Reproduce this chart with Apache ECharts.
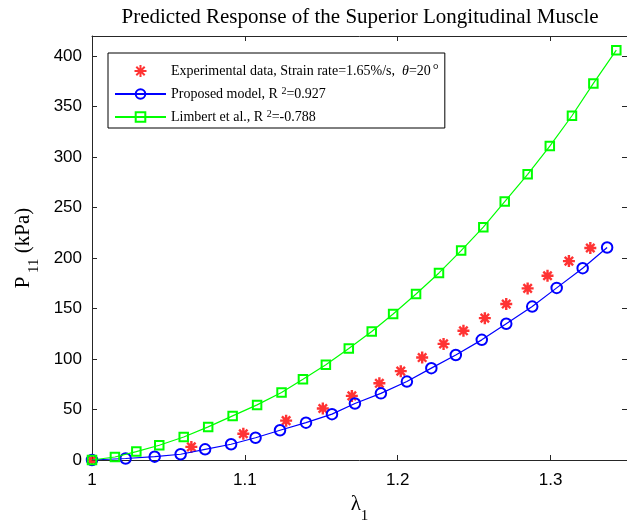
<!DOCTYPE html>
<html>
<head>
<meta charset="utf-8">
<script src="https://cdn.jsdelivr.net/npm/echarts@6/dist/echarts.min.js"></script>
<style>
html,body{margin:0;padding:0;background:#fff;}
#chart{width:627px;height:523px;}
</style>
</head>
<body>
<div id="chart"></div>
<script>
// Experimental data (red asterisks)
const expLambda = [1.000, 1.065, 1.099, 1.127, 1.151, 1.170, 1.188, 1.202, 1.216, 1.230, 1.243, 1.257, 1.271, 1.285, 1.298, 1.312, 1.326];
const expP      = [0, 13, 26, 39, 51, 63.5, 76, 88, 101.5, 115, 128, 140.5, 154.5, 170, 182.5, 197, 210];
// Proposed model (blue circles)
const modelLambda = [1.000, 1.022, 1.041, 1.058, 1.074, 1.091, 1.107, 1.123, 1.140, 1.157, 1.172, 1.189, 1.206, 1.222, 1.238, 1.255, 1.271, 1.288, 1.304, 1.321, 1.337];
const modelP      = [0, 1.5, 3.3, 5.7, 10.6, 15.6, 22, 29.5, 37, 45.4, 56, 66, 77.7, 91, 104, 119, 135, 152, 170.5, 190, 210.5];
// Limbert et al. (green squares)
const limbertLambda = [1.000, 1.015, 1.029, 1.044, 1.060, 1.076, 1.092, 1.108, 1.124, 1.138, 1.153, 1.168, 1.183, 1.197, 1.212, 1.227, 1.2415, 1.256, 1.270, 1.285, 1.2995, 1.314, 1.328, 1.343];
const limbertP      = [0, 3, 8.3, 14.6, 22.8, 32.8, 43.7, 54.6, 66.8, 80, 94.3, 110.5, 127.3, 144.6, 164.5, 185.3, 207.4, 230.6, 256, 283, 311, 341, 373, 406];

const titleText = 'Predicted Response of the Superior Longitudinal Muscle';
const seriesNames = ['Experimental', 'Proposed', 'Limbert'];

const zip = (a, b) => a.map((v, i) => [v, b[i]]);

const serif = '"Liberation Serif", "Times New Roman", serif';
const sans = '"Liberation Sans", Arial, Helvetica, sans-serif';

const legendText = {
  'Experimental': '{t|Experimental data, Strain rate=1.65%/s,  }{it|θ}{t|=20}{deg|°}',
  'Proposed': '{t|Proposed model, R }{sup|2}{t|=0.927}',
  'Limbert': '{t|Limbert et al., R }{sup|2}{t|=-0.788}'
};

const starPath = 'path://M5,0L5,10M0,5L10,5M1.5,1.5L8.5,8.5M1.5,8.5L8.5,1.5';
const axisColor = '#262626';

const chart = echarts.init(document.getElementById('chart'), null, {renderer: 'canvas'});
chart.setOption({
  animation: false,
  backgroundColor: '#fff',
  graphic: [{
    type: 'text', x: 360, y: 17,
    style: {text: titleText, font: '21px ' + serif, fill: '#000', textAlign: 'center', textVerticalAlign: 'middle'}
  }],
  grid: {left: 92, right: 0, top: 36, bottom: 63, containLabel: false, outerBoundsMode: 'none'},
  legend: {
    orient: 'vertical', left: 108, top: 53,
    padding: [10, 6, 3, 6],
    borderColor: '#000', borderWidth: 1, backgroundColor: '#fff',
    itemWidth: 51, itemHeight: 12, itemGap: 7,
    data: seriesNames,
    formatter: n => legendText[n],
    textStyle: {
      fontFamily: serif, fontSize: 14, color: '#000', lineHeight: 16,
      rich: {
        t: {fontFamily: serif, fontSize: 14, color: '#000', lineHeight: 16},
        it: {fontFamily: serif, fontSize: 14, fontStyle: 'italic', color: '#000', lineHeight: 16},
        sup: {fontFamily: serif, fontSize: 10, color: '#000', verticalAlign: 'top', lineHeight: 9},
        deg: {fontFamily: serif, fontSize: 15, color: '#000', verticalAlign: 'top', lineHeight: 12, padding: [0, 0, 0, 2]}
      }
    }
  },
  xAxis: [{
    type: 'value', min: 1, max: 1.35, interval: 0.1,
    name: '{a|λ}{b|1}', nameLocation: 'middle', nameGap: 30,
    nameTextStyle: {
      rich: {
        a: {fontFamily: serif, fontSize: 21, color: '#000', lineHeight: 24},
        b: {fontFamily: serif, fontSize: 15, color: '#000', verticalAlign: 'bottom', lineHeight: 14, padding: [0,0,-7,0]}
      }
    },
    axisLine: {show: true, onZero: false, lineStyle: {color: axisColor, width: 1}},
    axisTick: {show: true, inside: true, length: 5, lineStyle: {color: axisColor}},
    axisLabel: {
      color: '#000', fontFamily: sans, fontSize: 17, margin: 12, showMaxLabel: false,
      formatter: v => String(Math.round(v * 10) / 10)
    },
    splitLine: {show: false}
  }, {
    type: 'value', position: 'top', min: 1, max: 1.35, interval: 0.1,
    axisLine: {show: true, onZero: false, lineStyle: {color: axisColor, width: 1}},
    axisTick: {show: true, inside: true, length: 5, lineStyle: {color: axisColor}},
    axisLabel: {show: false}, splitLine: {show: false}
  }],
  yAxis: [{
    type: 'value', min: 0, max: 420, interval: 50,
    name: '{a|P}{b| 11}{a| (kPa)}', nameLocation: 'middle', nameGap: 57,
    nameTextStyle: {
      rich: {
        a: {fontFamily: serif, fontSize: 21, color: '#000', lineHeight: 24},
        b: {fontFamily: serif, fontSize: 15, color: '#000', verticalAlign: 'bottom', lineHeight: 14, padding: [0,0,-7,0]}
      }
    },
    axisLine: {show: true, onZero: false, lineStyle: {color: axisColor, width: 1}},
    axisTick: {show: true, inside: true, length: 5, lineStyle: {color: axisColor}},
    axisLabel: {color: '#000', fontFamily: sans, fontSize: 17, margin: 10, showMaxLabel: false},
    splitLine: {show: false}
  }, {
    type: 'value', position: 'right', min: 0, max: 420, interval: 50,
    axisLine: {show: true, onZero: false, lineStyle: {color: axisColor, width: 1}},
    axisTick: {show: true, inside: true, length: 5, lineStyle: {color: axisColor}},
    axisLabel: {show: false}, splitLine: {show: false}
  }],
  series: [{
    name: 'Experimental', type: 'scatter',
    data: zip(expLambda, expP),
    symbol: starPath, symbolSize: 12,
    itemStyle: {color: '#ff0000', borderColor: '#ff0000', borderWidth: 2.4},
    z: 3
  }, {
    name: 'Proposed', type: 'line',
    data: zip(modelLambda, modelP),
    symbol: 'circle', symbolSize: 10.5, showAllSymbol: true,
    lineStyle: {color: '#0000ff', width: 1.2},
    itemStyle: {color: 'rgba(0,0,0,0)', borderColor: '#0000ff', borderWidth: 2},
    z: 4
  }, {
    name: 'Limbert', type: 'line',
    data: zip(limbertLambda, limbertP),
    symbol: 'rect', symbolSize: 8.5, showAllSymbol: true,
    lineStyle: {color: '#00ff00', width: 1.2},
    itemStyle: {color: 'rgba(0,0,0,0)', borderColor: '#00ff00', borderWidth: 2},
    z: 5
  }]
});
</script>
</body>
</html>
